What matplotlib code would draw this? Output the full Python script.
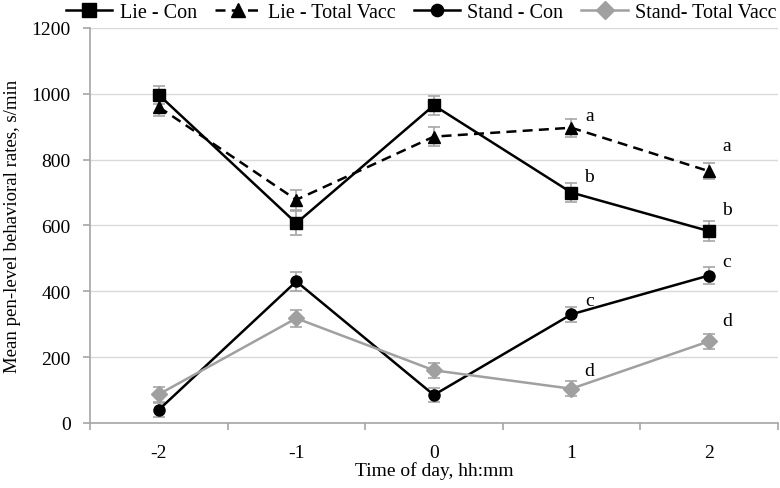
import matplotlib.pyplot as plt

plt.rcParams['font.family'] = 'Liberation Serif'
plt.rcParams['axes.unicode_minus'] = False

times = [-2, -1, 0, 1, 2]
lie_con = [997, 607, 965, 700, 583]
lie_con_err = [28, 36, 28, 28, 30]
lie_vacc = [960, 678, 870, 897, 765]
lie_vacc_err = [26, 30, 30, 28, 25]
stand_con = [40, 430, 85, 330, 448]
stand_con_err = [22, 30, 22, 22, 25]
stand_vacc = [87, 318, 160, 104, 248]
stand_vacc_err = [22, 25, 22, 22, 22]

# significance letters: (x, y, letter)
letters_x = [1, 2, 1, 2, 1, 2, 1, 2]
letters_y = [935, 843, 748, 650, 372, 490, 158, 310]
letters = ['a', 'a', 'b', 'b', 'c', 'c', 'd', 'd']

fig = plt.figure(figsize=(7.8, 4.89), dpi=100)
ax = fig.add_axes([0.1154, 0.133, 0.8816, 0.8077])

ebar = dict(ecolor='#a6a6a6', elinewidth=1.2, capsize=4, capthick=1.2)
ax.errorbar(times, lie_con, yerr=lie_con_err, color='black', lw=1.8,
            marker='s', ms=9, label='Lie - Con', **ebar)
ax.errorbar(times, lie_vacc, yerr=lie_vacc_err, color='black', lw=1.8, ls=(0, (4, 2.5)),
            marker='^', ms=9, label='Lie - Total Vacc', **ebar)
ax.errorbar(times, stand_con, yerr=stand_con_err, color='black', lw=1.8,
            marker='o', ms=8, label='Stand - Con', **ebar)
ax.errorbar(times, stand_vacc, yerr=stand_vacc_err, color='#a0a0a0', lw=1.8,
            marker='D', ms=8, label='Stand- Total Vacc', **ebar)

for x, y, t in zip(letters_x, letters_y, letters):
    ax.text(x + 0.13, y, t, fontsize=14, ha='center', va='center')

ax.set_xlim(-2.5, 2.5)
ax.set_ylim(0, 1200)
ax.set_yticks(range(0, 1201, 200))
ax.set_xticks(times)
ax.set_xticks([-2.5, -1.5, -0.5, 0.5, 1.5, 2.5], minor=True)
ax.tick_params(axis='x', which='major', length=0, pad=15, labelsize=14)
ax.tick_params(axis='x', which='minor', length=5, color='#a6a6a6', width=1.2)
ax.tick_params(axis='y', length=5, color='#a6a6a6', width=1.2, labelsize=14, pad=9)
ax.grid(axis='y', color='#d9d9d9', lw=1)
ax.set_axisbelow(True)
for s in ['top', 'right']:
    ax.spines[s].set_visible(False)
for s in ['left', 'bottom']:
    ax.spines[s].set_color('#a6a6a6')
    ax.spines[s].set_linewidth(1.2)

ax.set_xlabel('Time of day, hh:mm', fontsize=14)
ax.xaxis.set_label_coords(0.5, -0.096)
ax.set_ylabel('Mean pen-level behavioral rates, s/min', fontsize=13.5)
ax.yaxis.set_label_coords(-0.1, 0.5)

handles, labels = ax.get_legend_handles_labels()
handles = [h[0] for h in handles]
fig.legend(handles, labels, loc='center', bbox_to_anchor=(0.54, 1 - 13 / 489), ncol=4,
           frameon=False, fontsize=14.5, handlelength=2.3, columnspacing=0.9,
           handletextpad=0.35, markerscale=1.1)

fig.savefig('out.png', dpi=100)
